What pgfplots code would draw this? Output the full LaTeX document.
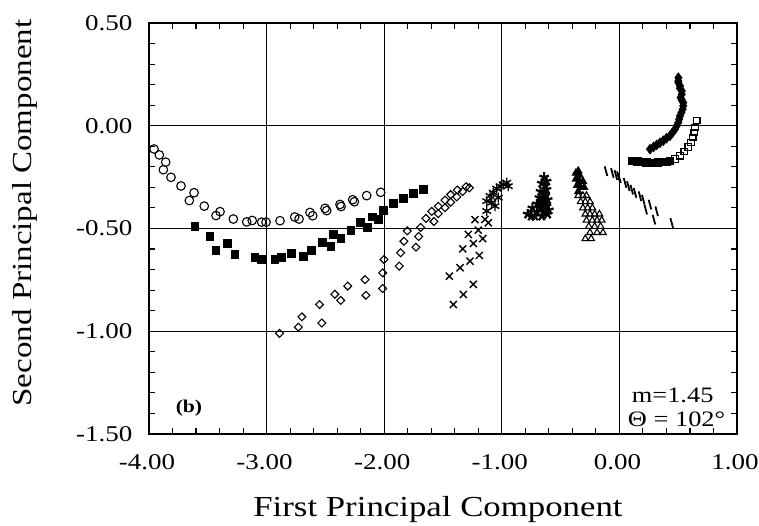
\documentclass[border=0pt]{standalone}
\usepackage{fontspec}
\setmainfont{Liberation Serif}[FakeStretch=1.2]
\usepackage{pgfplots}
\pgfplotsset{compat=1.18}

\begin{document}
\begin{tikzpicture}
\begin{axis}[
  at={(0pt,0pt)}, anchor=south west,
  scale only axis,
  width=588pt, height=411pt,
  xmin=-4, xmax=1, ymin=-1.5, ymax=0.5,
  xtick={-4,-3,-2,-1,0,1},
  ytick={-1.5,-1,-0.5,0,0.5},
  minor x tick num=4, minor y tick num=4,
  tick align=inside,
  major tick length=0pt, minor tick length=6pt,
  grid=major,
  major grid style={black, line width=1.1pt},
  axis line style={line width=2pt},
  every minor tick/.style={line width=1.1pt, black},
  tick label style={font=\fontsize{22.5}{26}\selectfont},
  xticklabel style={yshift=-17pt, xshift=-2pt},
  yticklabel style={xshift=-13pt},
  xticklabel={\pgfmathprintnumber[fixed,fixed zerofill,precision=2,assume math mode=true]{\tick}},
  yticklabel={\pgfmathprintnumber[fixed,fixed zerofill,precision=2,assume math mode=true]{\tick}},
  clip=false,
  every axis plot/.append style={only marks, black, line width=1.1pt},
]

% open circles
\addplot[mark=o, mark size=4.3pt] coordinates {
(-3.957,-0.113) (-3.912,-0.142) (-3.858,-0.177) (-3.878,-0.214) (-3.813,-0.251)
(-3.728,-0.293) (-3.617,-0.326) (-3.657,-0.364) (-3.530,-0.391) (-3.396,-0.418)
(-3.430,-0.437) (-3.283,-0.454) (-3.169,-0.468) (-3.122,-0.461) (-3.042,-0.469)
(-3.005,-0.469) (-2.886,-0.462) (-2.761,-0.444) (-2.724,-0.454) (-2.631,-0.422)
(-2.608,-0.438) (-2.503,-0.402) (-2.489,-0.413) (-2.376,-0.383) (-2.367,-0.393)
(-2.268,-0.360) (-2.254,-0.370) (-2.149,-0.340) (-2.030,-0.324)
};

% filled squares
\addplot[mark=square*, mark size=3.9pt] coordinates {
(-3.609,-0.492) (-3.481,-0.537) (-3.430,-0.609) (-3.331,-0.573) (-3.269,-0.627)
(-3.099,-0.643) (-3.042,-0.651) (-2.929,-0.650) (-2.872,-0.642) (-2.787,-0.622)
(-2.688,-0.636) (-2.617,-0.605) (-2.523,-0.567) (-2.452,-0.588) (-2.433,-0.529)
(-2.367,-0.550) (-2.282,-0.509) (-2.200,-0.470) (-2.140,-0.493) (-2.098,-0.444)
(-2.050,-0.457) (-2.008,-0.411) (-1.923,-0.377) (-1.838,-0.353) (-1.753,-0.329)
(-1.668,-0.311)
};

% open diamonds
\addplot[mark=square, mark size=2.8pt, mark options={rotate=45}] coordinates {
(-2.89,-1.01) (-2.73,-0.98) (-2.70,-0.93) (-2.55,-0.87) (-2.53,-0.96)
(-2.42,-0.82) (-2.37,-0.85) (-2.31,-0.78)
(-2.163,-0.749) (-2.155,-0.825) (-2.013,-0.792) (-2.013,-0.716) (-2.002,-0.651)
(-1.872,-0.683) (-1.860,-0.618) (-1.832,-0.562) (-1.804,-0.512) (-1.730,-0.591)
(-1.707,-0.539) (-1.690,-0.495) (-1.645,-0.451) (-1.577,-0.466) (-1.596,-0.417)
(-1.540,-0.428) (-1.540,-0.392) (-1.483,-0.399) (-1.483,-0.362) (-1.435,-0.372)
(-1.435,-0.335) (-1.383,-0.346) (-1.378,-0.313) (-1.333,-0.320) (-1.304,-0.297)
(-1.276,-0.302)
};

% crosses
\addplot[mark=x, mark size=5pt, line width=1.4pt] coordinates {
(-1.446,-0.732) (-1.412,-0.870) (-1.355,-0.691) (-1.327,-0.821) (-1.332,-0.599)
(-1.285,-0.529) (-1.270,-0.659) (-1.242,-0.772) (-1.242,-0.573) (-1.200,-0.508)
(-1.191,-0.631) (-1.162,-0.549) (-1.228,-0.457) (-1.143,-0.456) (-1.115,-0.472)
};

% asterisks
\addplot[mark=asterisk, mark size=5pt, line width=1.4pt] coordinates {
(-1.128,-0.415) (-1.128,-0.367) (-1.100,-0.342) (-1.086,-0.375) (-1.072,-0.326)
(-1.058,-0.391) (-1.043,-0.306) (-1.030,-0.350) (-1.015,-0.294) (-0.987,-0.286)
(-0.958,-0.277) (-0.945,-0.294)
};

% dense stars
\addplot[mark=star, mark size=5pt, line width=2.2pt] coordinates {
(-0.64,-0.25) (-0.62,-0.27) (-0.66,-0.28) (-0.63,-0.29) (-0.62,-0.31) (-0.67,-0.32)
(-0.64,-0.33) (-0.63,-0.34) (-0.68,-0.35) (-0.61,-0.36) (-0.66,-0.37) (-0.70,-0.38)
(-0.64,-0.38) (-0.62,-0.39) (-0.67,-0.40) (-0.74,-0.40) (-0.60,-0.41) (-0.70,-0.42)
(-0.64,-0.42) (-0.78,-0.43) (-0.72,-0.44) (-0.66,-0.44) (-0.61,-0.43) (-0.75,-0.44)
};

% triangles, upper part overlapping into a solid patch
\addplot[mark=triangle*, mark size=4pt] coordinates {
(-0.37,-0.23) (-0.35,-0.22) (-0.34,-0.24) (-0.37,-0.26) (-0.34,-0.27) (-0.31,-0.27)
(-0.36,-0.29) (-0.33,-0.30) (-0.30,-0.30) (-0.35,-0.32)
};
% open triangles
\addplot[mark=triangle, mark size=3.8pt, mark options={fill=white}] coordinates {
(-0.35,-0.34) (-0.31,-0.34) (-0.28,-0.34)
(-0.33,-0.37) (-0.29,-0.37) (-0.25,-0.37)
(-0.31,-0.40) (-0.27,-0.40) (-0.23,-0.40)
(-0.29,-0.43) (-0.25,-0.43) (-0.21,-0.43) (-0.17,-0.43)
(-0.28,-0.46) (-0.23,-0.46) (-0.19,-0.46) (-0.15,-0.46)
(-0.26,-0.49) (-0.21,-0.49) (-0.16,-0.49)
(-0.25,-0.52) (-0.19,-0.52) (-0.14,-0.52)
(-0.29,-0.55) (-0.24,-0.55)
};

% slanted dashes
\addplot[mark=|, mark size=5pt, line width=1.8pt, mark options={rotate=15}] coordinates {
(-0.114,-0.221) (-0.060,-0.230) (-0.030,-0.240) (-0.009,-0.246) (0.000,-0.255)
(0.048,-0.278) (0.076,-0.294) (0.105,-0.311) (0.133,-0.327) (0.175,-0.343)
(0.203,-0.360) (0.260,-0.384) (0.224,-0.408) (0.317,-0.416) (0.294,-0.457)
(0.445,-0.473)
};

% filled diamonds
\addplot[mark=diamond*, mark size=4.5pt] coordinates {
(0.260,-0.114) (0.290,-0.103) (0.317,-0.093) (0.345,-0.083) (0.373,-0.073)
(0.400,-0.061) (0.430,-0.049) (0.452,-0.033) (0.473,-0.017) (0.488,0.000)
(0.501,0.016) (0.508,0.032) (0.515,0.048) (0.527,0.064) (0.538,0.080)
(0.543,0.097) (0.543,0.113) (0.530,0.125) (0.520,0.137) (0.530,0.153)
(0.530,0.170) (0.515,0.182) (0.515,0.194) (0.501,0.210) (0.501,0.218)
(0.501,0.234)
};

% filled squares (dense band)
\addplot[mark=square*, mark size=3.6pt] coordinates {
(0.105,-0.170) (0.130,-0.172) (0.155,-0.174) (0.180,-0.176) (0.205,-0.178)
(0.230,-0.179) (0.255,-0.180) (0.280,-0.180) (0.305,-0.180) (0.330,-0.179)
(0.355,-0.178) (0.380,-0.177) (0.405,-0.175) (0.430,-0.173)
};

% open squares
\addplot[mark=square, mark size=3.3pt, mark options={fill=white}] coordinates {
(0.473,-0.163) (0.515,-0.146) (0.552,-0.125) (0.586,-0.103) (0.609,-0.082)
(0.623,-0.057) (0.637,-0.033) (0.643,-0.009) (0.657,0.025)
};

\node[font=\fontsize{18}{20}\selectfont\bfseries] at (axis cs:-3.66,-1.375) {(b)};
\node[font=\fontsize{22}{24}\selectfont, anchor=east] at (axis cs:0.83,-1.31) {m=1.45};
\node[font=\fontsize{22}{24}\selectfont, anchor=east] at (axis cs:0.93,-1.43) {Θ = 102°};
\end{axis}
% axis titles
\node[font=\fontsize{29}{31}\selectfont, anchor=base] at (289pt,-83pt) {First Principal Component};
\node[font=\fontsize{27.5}{30}\selectfont, rotate=90, anchor=center] at (-124pt,221pt) {Second Principal Component};
\pgfresetboundingbox
\useasboundingbox (-149pt,-92pt) rectangle (610pt,434pt);
\end{tikzpicture}
\end{document}
